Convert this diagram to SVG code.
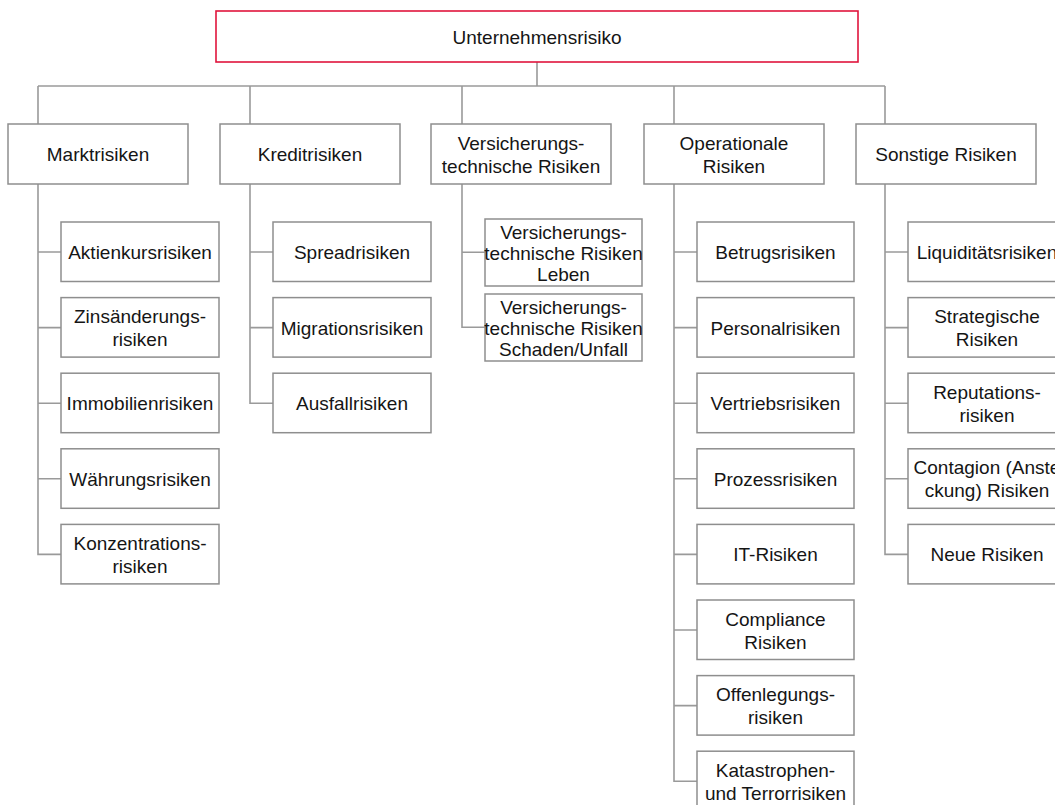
<svg xmlns="http://www.w3.org/2000/svg" width="1055" height="805" viewBox="0 0 1055 805">
<style>
.box{fill:#fff;stroke:#8e8e8e;stroke-width:1.5}
.root{fill:#fff;stroke:#e0143c;stroke-width:1.6}
.ln{fill:none;stroke:#9a9a9a;stroke-width:1.6}
text{font-family:"Liberation Sans",Arial,sans-serif;font-size:19px;fill:#151515;text-anchor:middle}
</style>
<rect width="1055" height="805" fill="#fff"/>
<g id="connectors">
<path class="ln" d="M537 62V86M38 86H885M38 86V124M250 86V124M462 86V124M674 86V124M885 86V124"/>
<path class="ln" d="M38 184V554.4H61M38 252H61M38 327.6H61M38 403.2H61M38 478.8H61"/>
<path class="ln" d="M250 184V403.2H273M250 252H273M250 327.6H273"/>
<path class="ln" d="M462 184V327.3H485M462 252.3H485"/>
<path class="ln" d="M674 184V781.2H697M674 252H697M674 327.6H697M674 403.2H697M674 478.8H697M674 554.4H697M674 630H697M674 705.6H697"/>
<path class="ln" d="M885 184V554.4H908M885 252H908M885 327.6H908M885 403.2H908M885 478.8H908"/>
</g>
<g id="n-root"><rect class="root" x="216" y="11" width="642" height="51"/><text x="537" y="43.5">Unternehmensrisiko</text></g>

<g id="n-markt"><rect class="box" x="8" y="124" width="180" height="60"/><text x="98" y="161">Marktrisiken</text></g>
<g id="n-kredit"><rect class="box" x="220" y="124" width="180" height="60"/><text x="310" y="161">Kreditrisiken</text></g>
<g id="n-vers"><rect class="box" x="431" y="124" width="180" height="60"/><text x="521" y="149.5">Versicherungs-</text><text x="521" y="172.5">technische Risiken</text></g>
<g id="n-oper"><rect class="box" x="644" y="124" width="180" height="60"/><text x="734" y="149.5">Operationale</text><text x="734" y="172.5">Risiken</text></g>
<g id="n-sonst"><rect class="box" x="856" y="124" width="180" height="60"/><text x="946" y="161">Sonstige Risiken</text></g>

<g id="n-aktien"><rect class="box" x="61" y="222" width="158" height="59.5"/><text x="140" y="259">Aktienkursrisiken</text></g>
<g id="n-zins"><rect class="box" x="61" y="297.6" width="158" height="59.5"/><text x="140" y="323.1">Zinsänderungs-</text><text x="140" y="346.1">risiken</text></g>
<g id="n-immo"><rect class="box" x="61" y="373.2" width="158" height="59.5"/><text x="140" y="410.2">Immobilienrisiken</text></g>
<g id="n-waehrung"><rect class="box" x="61" y="448.8" width="158" height="59.5"/><text x="140" y="485.8">Währungsrisiken</text></g>
<g id="n-konz"><rect class="box" x="61" y="524.4" width="158" height="59.5"/><text x="140" y="549.9">Konzentrations-</text><text x="140" y="572.9">risiken</text></g>

<g id="n-spread"><rect class="box" x="273" y="222" width="158" height="59.5"/><text x="352" y="259">Spreadrisiken</text></g>
<g id="n-migration"><rect class="box" x="273" y="297.6" width="158" height="59.5"/><text x="352" y="334.6">Migrationsrisiken</text></g>
<g id="n-ausfall"><rect class="box" x="273" y="373.2" width="158" height="59.5"/><text x="352" y="410.2">Ausfallrisiken</text></g>

<g id="n-leben"><rect class="box" x="485" y="219" width="157" height="67"/><text x="563.5" y="239">Versicherungs-</text><text x="563.5" y="260">technische Risiken</text><text x="563.5" y="281">Leben</text></g>
<g id="n-schaden"><rect class="box" x="485" y="294" width="157" height="67"/><text x="563.5" y="314">Versicherungs-</text><text x="563.5" y="335">technische Risiken</text><text x="563.5" y="356">Schaden/Unfall</text></g>

<g id="n-betrug"><rect class="box" x="697" y="222" width="157" height="59.5"/><text x="775.5" y="259">Betrugsrisiken</text></g>
<g id="n-personal"><rect class="box" x="697" y="297.6" width="157" height="59.5"/><text x="775.5" y="334.6">Personalrisiken</text></g>
<g id="n-vertrieb"><rect class="box" x="697" y="373.2" width="157" height="59.5"/><text x="775.5" y="410.2">Vertriebsrisiken</text></g>
<g id="n-prozess"><rect class="box" x="697" y="448.8" width="157" height="59.5"/><text x="775.5" y="485.8">Prozessrisiken</text></g>
<g id="n-it"><rect class="box" x="697" y="524.4" width="157" height="59.5"/><text x="775.5" y="561.4">IT-Risiken</text></g>
<g id="n-compliance"><rect class="box" x="697" y="600" width="157" height="59.5"/><text x="775.5" y="625.5">Compliance</text><text x="775.5" y="648.5">Risiken</text></g>
<g id="n-offen"><rect class="box" x="697" y="675.6" width="157" height="59.5"/><text x="775.5" y="701.1">Offenlegungs-</text><text x="775.5" y="724.1">risiken</text></g>
<g id="n-kat"><rect class="box" x="697" y="751.2" width="157" height="59.5"/><text x="775.5" y="776.7">Katastrophen-</text><text x="775.5" y="799.7">und Terrorrisiken</text></g>

<g id="n-liquid"><rect class="box" x="908" y="222" width="158" height="59.5"/><text x="987" y="259">Liquiditätsrisiken</text></g>
<g id="n-strat"><rect class="box" x="908" y="297.6" width="158" height="59.5"/><text x="987" y="323.1">Strategische</text><text x="987" y="346.1">Risiken</text></g>
<g id="n-reput"><rect class="box" x="908" y="373.2" width="158" height="59.5"/><text x="987" y="398.7">Reputations-</text><text x="987" y="421.7">risiken</text></g>
<g id="n-contagion"><rect class="box" x="908" y="448.8" width="158" height="59.5"/><text x="987" y="474.3">Contagion (Anste</text><text x="987" y="497.3">ckung) Risiken</text></g>
<g id="n-neue"><rect class="box" x="908" y="524.4" width="158" height="59.5"/><text x="987" y="561.4">Neue Risiken</text></g>
</svg>
